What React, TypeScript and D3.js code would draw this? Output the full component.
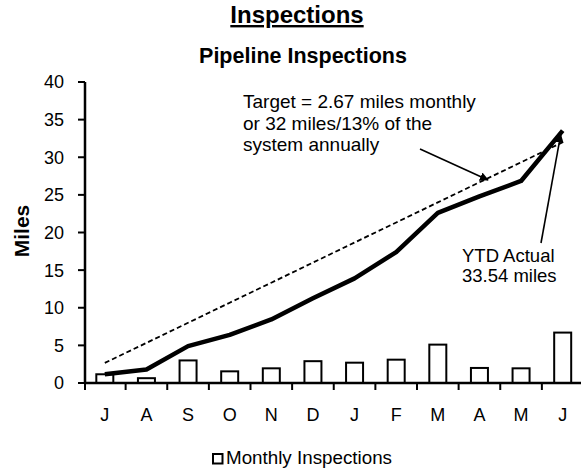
import React from "react";
import * as d3 from "d3";

const months = ["Jul", "Aug", "Sep", "Oct", "Nov", "Dec", "Jan", "Feb", "Mar", "Apr", "May", "Jun"];
const monthLabels = ["J", "A", "S", "O", "N", "D", "J", "F", "M", "A", "M", "J"];
const monthlyInspections = [1.16, 0.64, 3.0, 1.55, 1.95, 2.9, 2.7, 3.1, 5.1, 2.0, 1.95, 6.7];
const ytdActual = [1.16, 1.8, 4.9, 6.4, 8.45, 11.25, 13.9, 17.4, 22.6, 24.8, 26.85, 33.54];
const target = [2.67, 5.33, 8.0, 10.67, 13.33, 16.0, 18.67, 21.33, 24.0, 26.67, 29.33, 32.0];
const yTicks = [0, 5, 10, 15, 20, 25, 30, 35, 40];

const W = 581;
const H = 472;
const FONT = "'Liberation Sans', Arial, sans-serif";

export default function App() {
  const x = d3.scaleBand<string>().domain(months).range([84, 583.5]).paddingInner(0).paddingOuter(0);
  const y = d3.scaleLinear().domain([0, 40]).range([383, 82]);
  const bw = x.bandwidth();
  const barW = 17;
  const cx = (m: string) => (x(m) as number) + bw / 2;

  const line = d3
    .line<number>()
    .x((_, i) => cx(months[i]))
    .y((d) => y(d));

  const lastX = cx(months[11]);

  return (
    <svg
      width={W}
      height={H}
      style={{ position: "absolute", left: 0, top: 0, background: "#fff" }}
      fontFamily={FONT}
    >
      <defs>
        <marker id="arrow" viewBox="0 0 10 10" refX="9" refY="5" markerWidth="9" markerHeight="9" markerUnits="userSpaceOnUse" orient="auto">
          <path d="M0,0 L10,5 L0,10 z" fill="#000" />
        </marker>
      </defs>

      {/* Titles */}
      <text x={297} y={23} textAnchor="middle" fontSize={24} fontWeight="bold" textDecoration="underline">
        Inspections
      </text>
      <text x={303} y={63} textAnchor="middle" fontSize={21.5} fontWeight="bold">
        Pipeline Inspections
      </text>

      {/* Y axis label */}
      <text transform={`translate(29,231) rotate(-90)`} textAnchor="middle" fontSize={21} fontWeight="bold">
        Miles
      </text>

      {/* Bars */}
      {monthlyInspections.map((v, i) => (
        <rect
          key={i}
          x={cx(months[i]) - barW / 2}
          y={y(v)}
          width={barW}
          height={y(0) - y(v)}
          fill="#fff"
          stroke="#000"
          strokeWidth={2}
        />
      ))}

      {/* Target dashed line */}
      <path d={line(target) || ""} fill="none" stroke="#000" strokeWidth={1.8} strokeDasharray="5,3" />

      {/* YTD actual line */}
      <path d={line(ytdActual) || ""} fill="none" stroke="#000" strokeWidth={4.5} strokeLinejoin="round" />

      {/* Y axis */}
      <line x1={85} x2={85} y1={y(40)} y2={y(0) + 1} stroke="#000" strokeWidth={2.5} />
      {yTicks.map((t) => (
        <g key={t}>
          <line x1={78} x2={85} y1={y(t)} y2={y(t)} stroke="#000" strokeWidth={2} />
          <text x={64} y={y(t)} dy="0.36em" textAnchor="end" fontSize={18}>
            {t}
          </text>
        </g>
      ))}

      {/* X axis */}
      <line x1={84} x2={583} y1={y(0)} y2={y(0)} stroke="#000" strokeWidth={2.5} />
      {months.map((m, i) => (
        <g key={m}>
          <line x1={(x(m) as number) + bw} x2={(x(m) as number) + bw} y1={y(0)} y2={y(0) + 7} stroke="#000" strokeWidth={2} />
          <text x={cx(m)} y={421} textAnchor="middle" fontSize={18}>
            {monthLabels[i]}
          </text>
        </g>
      ))}
      <line x1={85} x2={85} y1={y(0)} y2={y(0) + 7} stroke="#000" strokeWidth={2} />

      {/* Target annotation */}
      <text fontSize={19}>
        <tspan x={243} y={108}>Target = 2.67 miles monthly</tspan>
        <tspan x={243} y={129.5}>or 32 miles/13% of the</tspan>
        <tspan x={243} y={151}>system annually</tspan>
      </text>
      <line x1={420} y1={149} x2={488} y2={180} stroke="#000" strokeWidth={1.6} markerEnd="url(#arrow)" />

      {/* YTD annotation */}
      <text fontSize={18.5}>
        <tspan x={462} y={261.5}>YTD Actual</tspan>
        <tspan x={462} y={282}>33.54 miles</tspan>
      </text>
      <line x1={541} y1={243} x2={lastX - 2} y2={y(ytdActual[11]) + 4} stroke="#000" strokeWidth={1.6} markerEnd="url(#arrow)" />

      {/* Legend */}
      <rect x={213} y={454} width={9.5} height={9.5} fill="#fff" stroke="#000" strokeWidth={2} />
      <text x={226} y={464} fontSize={18.8}>
        Monthly Inspections
      </text>
    </svg>
  );
}
